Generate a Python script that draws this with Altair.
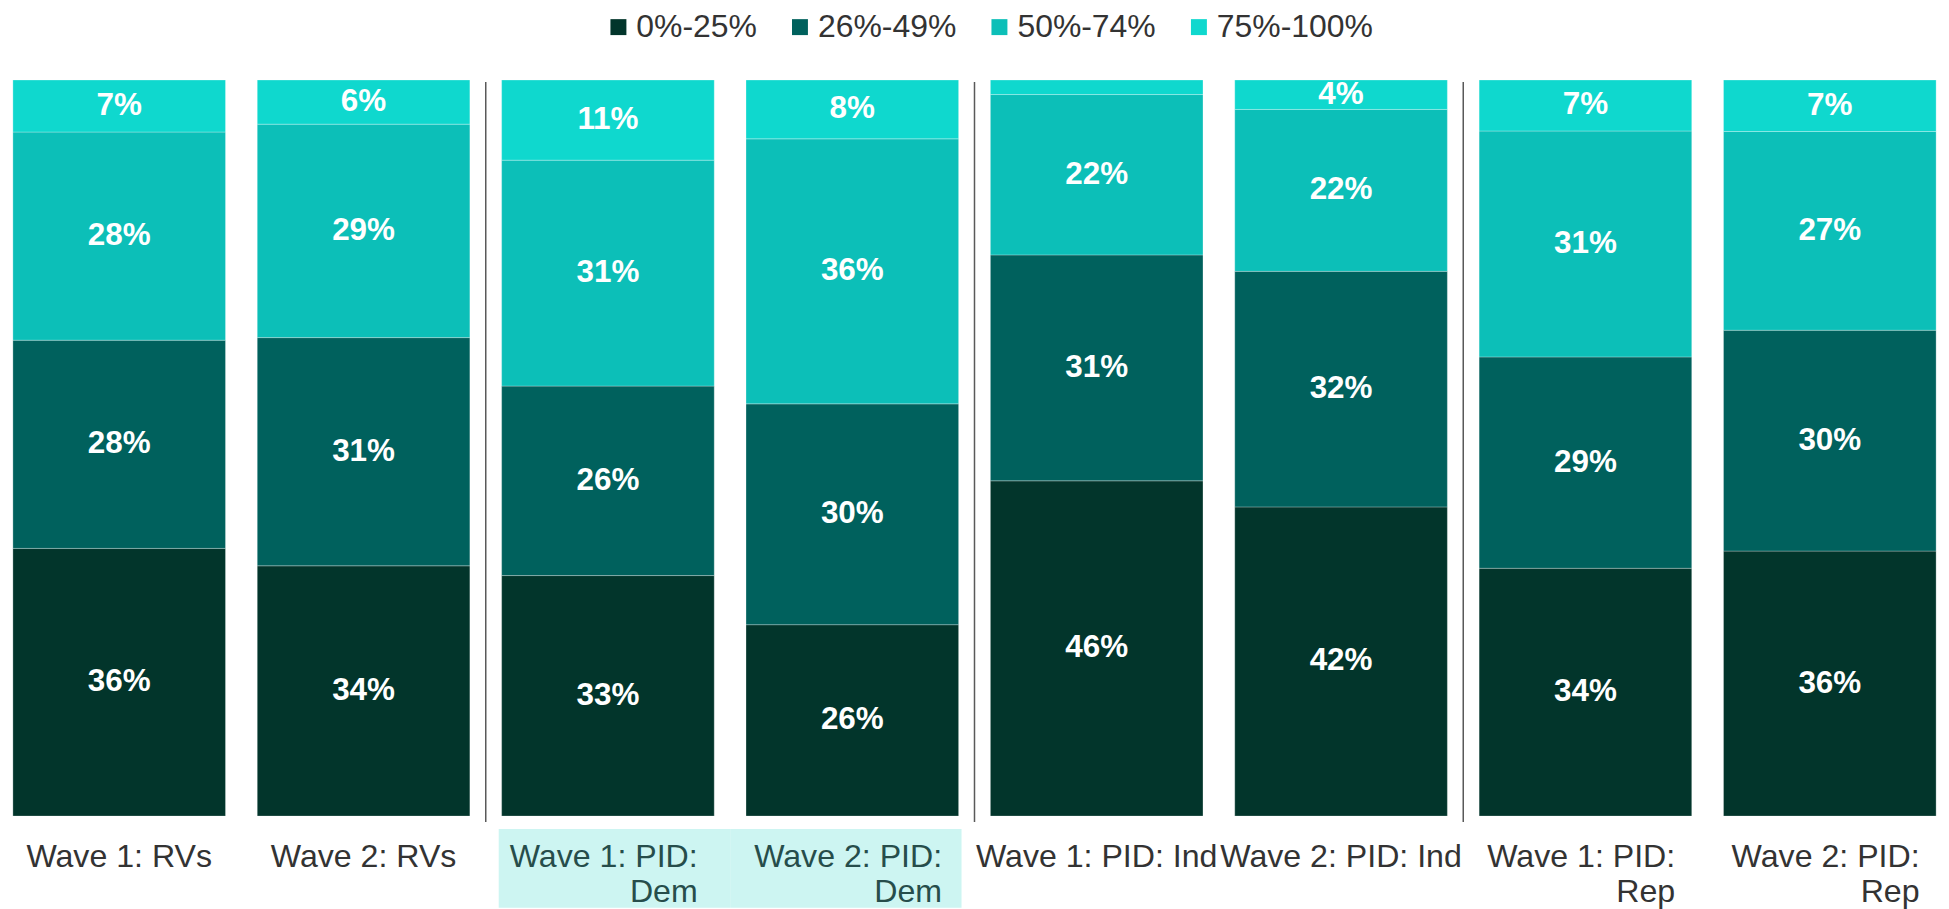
import altair as alt
import pandas as pd

# ---------------- data ----------------
categories = [
    "Wave 1: RVs", "Wave 2: RVs",
    "Wave 1: PID: Dem", "Wave 2: PID: Dem",
    "Wave 1: PID: Ind", "Wave 2: PID: Ind",
    "Wave 1: PID: Rep", "Wave 2: PID: Rep",
]
series_names = ["0%-25%", "26%-49%", "50%-74%", "75%-100%"]
s_0_25 = [36, 34, 33, 26, 46, 42, 34, 36]
s_26_49 = [28, 31, 26, 30, 31, 32, 29, 30]
s_50_74 = [28, 29, 31, 36, 22, 22, 31, 27]
s_75_100 = [7, 6, 11, 8, 2, 4, 7, 7]

label_lines = [
    ["Wave 1: RVs"], ["Wave 2: RVs"],
    ["Wave 1: PID:", "Dem"], ["Wave 2: PID:", "Dem"],
    ["Wave 1: PID: Ind"], ["Wave 2: PID: Ind"],
    ["Wave 1: PID:", "Rep"], ["Wave 2: PID:", "Rep"],
]
separator_after = ["Wave 1: PID: Dem", "Wave 1: PID: Ind", "Wave 1: PID: Rep"]
highlight_cats = ["Wave 1: PID: Dem", "Wave 2: PID: Dem"]

colors = ["#02352B", "#00615D", "#0CBFB8", "#0FD8CE"]

rows = []
for i, c in enumerate(categories):
    for k, vals in enumerate([s_0_25, s_26_49, s_50_74, s_75_100]):
        rows.append({"cat": c, "series": series_names[k], "order": k, "v": vals[i]})
df = pd.DataFrame(rows)

lab_df = pd.DataFrame({
    "cat": categories,
    "lines": label_lines,
    "nlines": [len(l) for l in label_lines],
    "grp": [c.split(": ")[-1] for c in categories],
})

# ---------------- layout ----------------
W, H = 1938, 738
P_IN, P_OUT = 0.13, 0.02
STEP = W / (len(categories) - P_IN + 2 * P_OUT)
FONT = "Liberation Sans"
LABEL_FS = 32.2

xscale = alt.Scale(domain=categories, paddingInner=P_IN, paddingOuter=P_OUT)
xenc = alt.X("cat:N", scale=xscale, axis=None, sort=categories)
yscale = alt.Scale(domain=[0, 1])

base = (
    alt.Chart(df)
    .transform_stack(stack="v", as_=["y0", "y1"], groupby=["cat"],
                     sort=[alt.SortField("order", "ascending")], offset="normalize")
    .transform_calculate(mid="(datum.y0 + datum.y1) / 2", label="datum.v + '%'")
)

bars = base.mark_bar(stroke="white", strokeWidth=0.8, strokeOpacity=0.35).encode(
    x=xenc,
    y=alt.Y("y0:Q", scale=yscale, axis=None),
    y2="y1:Q",
    color=alt.Color(
        "series:N",
        scale=alt.Scale(domain=series_names, range=colors),
        legend=alt.Legend(
            title=None, orient="none", legendX=596, legendY=-69,
            direction="horizontal", symbolType="square", symbolSize=256,
            symbolStrokeWidth=0, labelFontSize=32, labelFont=FONT,
            labelColor="#333333", labelOffset=2, columnPadding=27, labelLimit=400,
        ),
    ),
)

values_text = base.transform_filter("datum.v >= 3").mark_text(
    color="white", fontWeight="bold", fontSize=31.5, font=FONT, baseline="middle"
).encode(
    x=xenc,
    y=alt.Y("mid:Q", scale=yscale, axis=None),
    text="label:N",
)

hl_base = alt.Chart(lab_df)
hl1 = hl_base.transform_filter(alt.datum.cat == highlight_cats[0]).mark_bar(
    color="#CDF5F2", width=STEP - 13, xOffset=6.5
).encode(x=xenc, y=alt.value(H + 13), y2=alt.value(H + 92))
hl2 = hl_base.transform_filter(alt.datum.cat == highlight_cats[1]).mark_bar(
    color="#CDF5F2", width=STEP - 13, xOffset=-6.5
).encode(x=xenc, y=alt.value(H + 13), y2=alt.value(H + 92))

seps = hl_base.transform_filter(
    alt.FieldOneOfPredicate(field="cat", oneOf=separator_after)
).mark_rule(color="#595959", strokeWidth=1.5, xOffset=-STEP / 2).encode(
    x=xenc, y=alt.value(2), y2=alt.value(H + 6)
)

single = hl_base.transform_filter("datum.nlines == 1").mark_text(
    align="center", baseline="alphabetic", fontSize=LABEL_FS, font=FONT, color="#333333"
).encode(x=xenc, y=alt.value(H + 51), text="lines")

double = hl_base.transform_filter("datum.nlines == 2").mark_text(
    align="right", baseline="alphabetic", fontSize=LABEL_FS, font=FONT, lineHeight=35, dx=90
).encode(
    x=xenc, y=alt.value(H + 51), text="lines",
    color=alt.condition(alt.datum.grp == "Dem", alt.value("#264D4B"), alt.value("#333333")),
)

chart = alt.layer(hl1, hl2, seps, bars, values_text, single, double).properties(
    width=W, height=H, padding={"left": 0, "right": 0, "top": 2, "bottom": 0}
).configure_view(stroke=None)

chart.save("out.html", embed_options={"renderer": "svg", "actions": False})
